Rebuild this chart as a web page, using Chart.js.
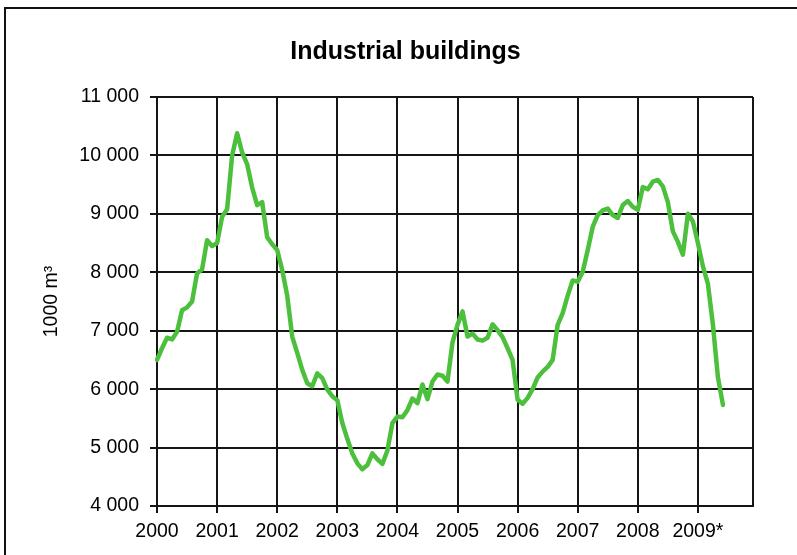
<!DOCTYPE html>
<html>
<head>
<meta charset="utf-8">
<script src="https://cdn.jsdelivr.net/npm/chart.js@4.4.1/dist/chart.umd.min.js"></script>
<style>
  html, body { margin: 0; padding: 0; background: #fff; }
  #wrap { width: 797px; height: 555px; position: relative; }
</style>
</head>
<body>
<div id="wrap"><canvas id="grafico" width="797" height="555"></canvas></div>
<script>
// etichette anni (una ogni 12 mesi)
const anni = ['2000', '2001', '2002', '2003', '2004', '2005', '2006', '2007', '2008', '2009*']

// mesi gen 2000 - dic 2009 (l'asse arriva a fine 2009)
const mesi = []
for (let a = 2000; a <= 2009; a++) {
    for (let m = 1; m <= 12; m++) mesi.push(a + '-' + m)
}

// volume edifici industriali, 1000 m3, gen 2000 - giu 2009
const valori = [
    6500, 6700, 6880, 6850, 6980, 7350, 7400, 7500, 7980, 8050, 8550, 8450,
    8500, 8950, 9080, 10000, 10380, 10050, 9850, 9450, 9150, 9200, 8600, 8480,
    8380, 8040, 7600, 6900, 6620, 6330, 6100, 6050, 6270, 6190, 5990, 5880,
    5810, 5420, 5150, 4900, 4730, 4630, 4700, 4900, 4800, 4720, 4950, 5420,
    5530, 5520, 5640, 5840, 5760, 6080, 5830, 6130, 6250, 6230, 6130, 6800,
    7100, 7330, 6900, 6950, 6850, 6830, 6880, 7110, 7010, 6890, 6700, 6500,
    5820, 5750, 5850, 6000, 6200, 6300, 6380, 6500, 7100, 7300, 7600, 7860,
    7840, 8010, 8380, 8780, 8980, 9060, 9090, 8980, 8930, 9150, 9220, 9120,
    9070, 9460, 9420, 9550, 9580, 9470, 9200, 8700, 8520, 8300, 9000, 8870,
    8500, 8100, 7800, 7100, 6200, 5730
]

const font = 'Liberation Sans, Arial, sans-serif'
const nero = '#151515'

// cornice esterna (solo lati sinistro e superiore visibili)
const cornice = {
    id: 'cornice',
    beforeDraw(chart) {
        const c = chart.ctx
        c.save()
        c.fillStyle = '#fff'
        c.fillRect(0, 0, chart.width, chart.height)
        c.strokeStyle = '#111'
        c.lineWidth = 2
        c.beginPath()
        c.moveTo(5, chart.height)
        c.lineTo(5, 8)
        c.lineTo(chart.width, 8)
        c.stroke()
        c.restore()
    }
}

new Chart(document.getElementById('grafico'), {
    type: 'line',
    data: {
        labels: mesi,
        datasets: [{
            label: 'Industrial buildings',
            data: valori,
            borderColor: '#4cbf3c',
            borderWidth: 4.5,
            pointRadius: 0,
            tension: 0,
            borderJoinStyle: 'round',
            borderCapStyle: 'round',
            fill: false
        }]
    },
    plugins: [cornice],
    options: {
        responsive: false,
        animation: false,
        layout: { padding: { left: 30, right: 16, top: 0, bottom: 0 } },
        plugins: {
            legend: { display: false },
            tooltip: { enabled: false },
            title: {
                display: true,
                text: 'Industrial buildings',
                color: '#000',
                font: { family: font, size: 25, weight: 'bold' },
                padding: { top: 37, bottom: 30 }
            }
        },
        scales: {
            x: {
                offset: false,
                afterFit(scale) { scale.height = 49 },
                grid: {
                    offset: false,
                    lineWidth: 2,
                    tickLength: 7,
                    color: ctx => (ctx.index % 12 === 0 || ctx.index === mesi.length - 1) ? nero : 'rgba(0,0,0,0)',
                    tickColor: ctx => ctx.index % 12 === 0 ? nero : 'rgba(0,0,0,0)'
                },
                border: { display: true, color: nero, width: 2 },
                ticks: {
                    autoSkip: false,
                    maxRotation: 0,
                    minRotation: 0,
                    padding: 7,
                    color: '#000',
                    font: { family: font, size: 19.5 },
                    callback: (v, i) => i % 12 === 0 ? anni[i / 12] : ''
                }
            },
            y: {
                min: 4000,
                max: 11000,
                afterFit(scale) { scale.width = 127 },
                title: {
                    display: true,
                    text: '1000 m³',
                    color: '#000',
                    font: { family: font, size: 19.5 },
                    padding: { top: 10, bottom: 0 }
                },
                grid: { color: nero, lineWidth: 2, tickLength: 7 },
                border: { display: true, color: nero, width: 2 },
                ticks: {
                    stepSize: 1000,
                    padding: 11,
                    color: '#000',
                    font: { family: font, size: 19.5 },
                    callback: v => String(v).replace(/\B(?=(\d{3})+(?!\d))/g, ' ')
                }
            },
            // asse vuoto a destra, solo per lasciare spazio
            destra: {
                position: 'right',
                display: true,
                afterFit(scale) { scale.width = 28 },
                grid: { display: false },
                border: { display: false },
                ticks: { display: false }
            }
        }
    }
})
</script>
</body>
</html>
